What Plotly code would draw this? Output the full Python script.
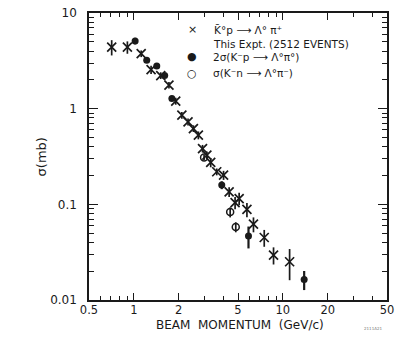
import plotly.graph_objects as go

# K0bar p -> Lambda pi+ (this experiment)
cross_p = [0.71, 0.905, 1.12, 1.305, 1.515, 1.72, 1.91, 2.10, 2.31, 2.51, 2.71, 2.89,
           3.09, 3.28, 3.60, 4.0, 4.36, 4.78, 5.09, 5.74, 6.35, 7.5, 8.66, 11.1]
cross_s = [4.4, 4.4, 3.76, 2.56, 2.22, 1.76, 1.2, 0.854, 0.727, 0.62, 0.528, 0.383,
           0.327, 0.274, 0.219, 0.202, 0.135, 0.104, 0.115, 0.0884, 0.062, 0.045, 0.0295, 0.0251]
cross_err = [0.8, 0.65, 0.3, 0.25, 0.18, 0.14, 0.1, 0.07, 0.06, 0.05, 0.05, 0.035,
             0.03, 0.03, 0.018, 0.022, 0.016, 0.015, 0.017, 0.015, 0.011, 0.009, 0.006, 0.009]

# 2 sigma(K- p -> Lambda pi0)
filled_p = [1.02, 1.22, 1.425, 1.61, 1.8, 3.89, 5.88, 13.9]
filled_s = [5.1, 3.2, 2.8, 2.22, 1.275, 0.159, 0.0466, 0.0164]
filled_err = [0.4, 0.15, 0.12, 0.1, 0.05, 0.015, 0.012, 0.0037]

# sigma(K- n -> Lambda pi-)
open_p = [2.96, 4.43, 4.83]
open_s = [0.309, 0.083, 0.058]
open_err = [0.02, 0.01, 0.007]

x_ticks = [0.5, 1, 2, 5, 10, 20, 50]
x_labels = ["0.5", "1", "2", "5", "10", "20", "50"]
y_ticks = [0.01, 0.1, 1, 10]
y_labels = ["0.01", "0.1", "1", "10"]

FONT = "DejaVu Sans"
INK = "#1a1a1a"

fig = go.Figure()

fig.add_trace(go.Scatter(
    x=cross_p, y=cross_s, mode="markers",
    marker=dict(symbol="x-thin", size=9, color=INK, line=dict(width=1.7, color=INK)),
    error_y=dict(type="data", array=cross_err, width=0, thickness=1.7, color=INK),
))
fig.add_trace(go.Scatter(
    x=filled_p, y=filled_s, mode="markers",
    marker=dict(symbol="circle", size=7, color=INK),
    error_y=dict(type="data", array=filled_err, width=0, thickness=2.2, color=INK),
))
fig.add_trace(go.Scatter(
    x=open_p, y=open_s, mode="markers",
    marker=dict(symbol="circle-open", size=7, color=INK, line=dict(width=1.5, color=INK)),
    error_y=dict(type="data", array=open_err, width=0, thickness=1.7, color=INK),
))

minor_x = [0.6, 0.7, 0.8, 0.9, 3, 4, 6, 7, 8, 9, 30, 40]
minor_y = [m * d for d in (0.01, 0.1, 1) for m in range(2, 10)]

fig.update_xaxes(
    type="log", range=[-0.30103, 1.69897], automargin=False,
    tickvals=x_ticks, ticktext=x_labels, ticklabeloverflow="allow",
    ticks="inside", ticklen=7, tickwidth=1.2, tickcolor=INK,
    minor=dict(tickvals=minor_x, ticks="inside", ticklen=4, tickwidth=1, tickcolor=INK),
    showline=True, linecolor=INK, linewidth=1.5, mirror="ticks",
    showgrid=False, zeroline=False, ticklabelstandoff=-2,
    tickfont=dict(family=FONT, size=11.5, color=INK),
)
fig.update_yaxes(
    type="log", range=[-2, 1], automargin=False,
    tickvals=y_ticks, ticktext=y_labels, ticklabeloverflow="allow",
    ticks="inside", ticklen=9, tickwidth=1.2, tickcolor=INK,
    minor=dict(tickvals=minor_y, ticks="inside", ticklen=5, tickwidth=1, tickcolor=INK),
    showline=True, linecolor=INK, linewidth=1.5, mirror="ticks",
    showgrid=False, zeroline=False, ticklabelstandoff=8,
    tickfont=dict(family=FONT, size=12, color=INK),
)

# axis titles placed as annotations
fig.add_annotation(x=0.507, y=-0.087, xref="paper", yref="paper",
                   text="BEAM  MOMENTUM  (GeV/c)", showarrow=False,
                   xanchor="center", yanchor="middle",
                   font=dict(family=FONT, size=12, color=INK))
fig.add_annotation(x=-0.158, y=0.5, xref="paper", yref="paper",
                   text="σ(mb)", showarrow=False, textangle=-90,
                   xanchor="center", yanchor="middle",
                   font=dict(family=FONT, size=13, color=INK))

legend_syms = [("×", 0.941), ("●", 0.847), ("○", 0.79)]
legend_texts = [
    ("K̄°p ⟶ Λ° π⁺<br>This Expt. (2512 EVENTS)", 0.918),
    ("2σ(K⁻p ⟶ Λ°π°)", 0.847),
    ("σ(K⁻n ⟶ Λ°π⁻)", 0.79),
]
for sym, yy in legend_syms:
    fig.add_annotation(x=0.346, y=yy, xref="paper", yref="paper", text=sym,
                       showarrow=False, xanchor="center", yanchor="middle",
                       font=dict(family=FONT, size=11, color=INK))
for txt, yy in legend_texts:
    fig.add_annotation(x=0.41, y=yy, xref="paper", yref="paper", text=txt,
                       showarrow=False, xanchor="left", yanchor="middle", align="left",
                       font=dict(family=FONT, size=10.5, color=INK))

fig.add_annotation(x=0.99, y=-0.098, xref="paper", yref="paper", text="2111A21",
                   showarrow=False, xanchor="right", yanchor="middle",
                   font=dict(family=FONT, size=4, color="#777777"))

# the page body adds an 8px offset, so the plot box is shifted to compensate
fig.update_layout(
    width=397, height=330,
    margin=dict(l=81, r=18, t=5, b=38, autoexpand=False),
    paper_bgcolor="white", plot_bgcolor="white",
    showlegend=False,
)

fig.write_html("out.html")
